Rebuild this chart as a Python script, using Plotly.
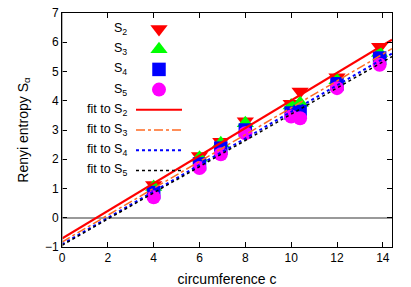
import plotly.graph_objects as go

# ---------------- data ----------------
circumference = [4, 6, 6.93, 8, 10, 10.39, 12, 13.86]
S2 = [1.12, 2.11, 2.60, 3.30, 3.90, 4.32, 4.80, 5.85]
S3 = [1.05, 2.05, 2.55, 3.23, 3.84, 3.92, 4.70, 5.63]
S4 = [0.86, 1.84, 2.38, 3.00, 3.58, 3.63, 4.58, 5.46]
S5 = [0.70, 1.70, 2.17, 2.89, 3.46, 3.40, 4.43, 5.23]

fit_intercept = [-0.71, -0.83, -0.91, -0.94]
fit_slope = [0.472, 0.459, 0.453, 0.448]

series_names = ["S<sub>2</sub>", "S<sub>3</sub>", "S<sub>4</sub>", "S<sub>5</sub>"]
fit_names = ["fit to S<sub>2</sub>", "fit to S<sub>3</sub>", "fit to S<sub>4</sub>", "fit to S<sub>5</sub>"]
x_ticks = [0, 2, 4, 6, 8, 10, 12, 14]
y_ticks = [-1, 0, 1, 2, 3, 4, 5, 6, 7]
x_range = [0, 14.4]
y_range = [-1, 7]

# ---------------- styles ----------------
marker_colors = ["#ff0000", "#00ff00", "#0000ff", "#ff00ff"]
marker_symbols = ["triangle-down", "triangle-up", "square", "circle"]
marker_sizes = [15, 15, 13.5, 14]
fit_colors = ["#ff0000", "#ff6a22", "#0000ff", "#000000"]
fit_dashes = ["solid", "dashdot", "dot", "3px,3px"]
fit_widths = [2, 1.5, 2, 1.5]

W, H = 411, 287
L, R, T, B = 62, 19, 13, 40
pw, ph = W - L - R, H - T - B

FONT = "Liberation Sans, Arial, sans-serif"

fig = go.Figure()
all_series = [S2, S3, S4, S5]
for vals, c, s, sz, n in zip(all_series, marker_colors, marker_symbols, marker_sizes, series_names):
    fig.add_trace(go.Scatter(x=circumference, y=vals, mode="markers", name=n,
                             marker=dict(color=c, symbol=s, size=sz, line=dict(width=0)),
                             showlegend=False))

for a, b, c, d, w, n in zip(fit_intercept, fit_slope, fit_colors, fit_dashes, fit_widths, fit_names):
    fig.add_trace(go.Scatter(x=x_range, y=[a + b * x_range[0], a + b * x_range[1]],
                             mode="lines", name=n, line=dict(color=c, dash=d, width=w),
                             showlegend=False))

# ---------------- manual gnuplot-style key ----------------
def px2paper(px, py):
    return (px - L) / pw, (H - B - py) / ph

row_y = [29 + 20.2 * i for i in range(8)]
text_right_px = 129
sym_px = 159
line_px = (136, 182)

key_x, key_y = [], []
for i in range(4):
    xp, yp = px2paper(sym_px, row_y[i])
    key_x.append(xp)
    key_y.append(yp)
for i in range(4):
    fig.add_trace(go.Scatter(x=[key_x[i]], y=[key_y[i]], mode="markers", xaxis="x2", yaxis="y2",
                             marker=dict(color=marker_colors[i], symbol=marker_symbols[i],
                                         size=marker_sizes[i], line=dict(width=0)),
                             showlegend=False, hoverinfo="skip"))

labels = series_names + fit_names
for i, lab in enumerate(labels):
    xp, yp = px2paper(text_right_px, row_y[i])
    fig.add_annotation(x=xp, y=yp, xref="paper", yref="paper", text=lab, showarrow=False,
                       xanchor="right", yanchor="middle", font=dict(family=FONT, size=12.5, color="#000"))
for i in range(4):
    x0, yp = px2paper(line_px[0], row_y[4 + i])
    x1, _ = px2paper(line_px[1], row_y[4 + i])
    fig.add_shape(type="line", xref="paper", yref="paper", x0=x0, x1=x1, y0=yp, y1=yp,
                  line=dict(color=fit_colors[i], dash=fit_dashes[i], width=fit_widths[i]))

fig.update_layout(
    width=W, height=H,
    margin=dict(l=L, r=R, t=T, b=B, autoexpand=False),
    paper_bgcolor="white", plot_bgcolor="white",
    font=dict(family=FONT, size=12, color="#000"),
    xaxis=dict(range=x_range, tickvals=x_ticks, ticks="inside", ticklen=5, tickcolor="#000",
               showgrid=False, zeroline=False, showline=True, linecolor="#000", linewidth=1,
               mirror="ticks", title=dict(text="circumference c", standoff=9), automargin=False,
               tickfont=dict(size=12)),
    yaxis=dict(range=y_range, tickvals=y_ticks, ticks="inside", ticklen=5, tickcolor="#000",
               showgrid=False, zeroline=True, zerolinecolor="#999999", zerolinewidth=1.5,
               showline=True, linecolor="#000", linewidth=1, automargin=False,
               mirror="ticks", title=dict(text="Renyi entropy S<sub>α</sub>", standoff=13),
               tickfont=dict(size=12)),
    xaxis2=dict(range=[0, 1], overlaying="x", visible=False, fixedrange=True),
    yaxis2=dict(range=[0, 1], overlaying="y", visible=False, fixedrange=True),
    showlegend=False,
)
# gray zero axis at x = 0 (coincides with left border)
fig.add_shape(type="line", xref="x", yref="paper", x0=0, x1=0, y0=0, y1=1,
              line=dict(color="#999999", width=1.5), layer="above")

fig.write_html("out.html", config={"displayModeBar": False},
               post_script="document.body.style.margin='0';document.body.style.padding='0';")
